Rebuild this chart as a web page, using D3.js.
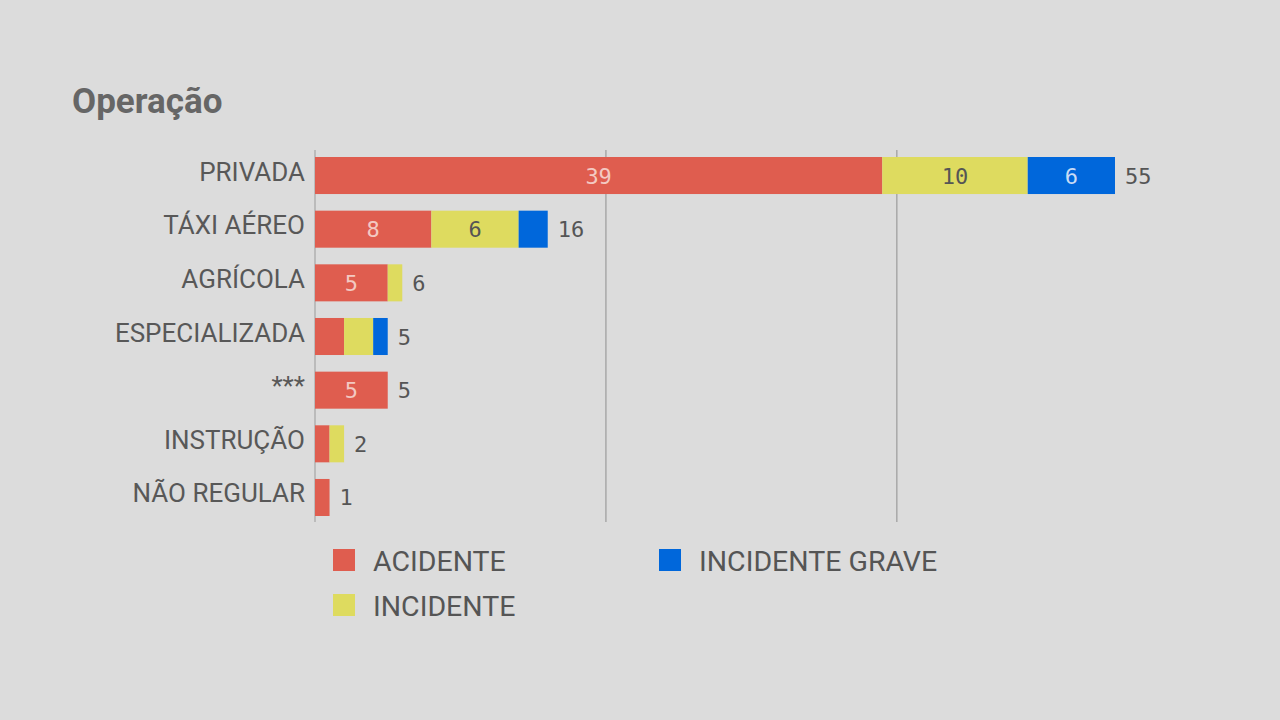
<!DOCTYPE html>
<html><head><meta charset="utf-8">
<script src="https://cdn.jsdelivr.net/npm/d3@7"></script>
<style>
html,body{margin:0;padding:0;background:#dcdcdc;}
svg{display:block;}
</style></head>
<body>
<svg id="chart" width="1280" height="720"></svg>
<script>
const categories = ["PRIVADA","TÁXI AÉREO","AGRÍCOLA","ESPECIALIZADA","***","INSTRUÇÃO","NÃO REGULAR"];
const seriesNames = ["ACIDENTE","INCIDENTE","INCIDENTE GRAVE"];
const acidente = [39, 8, 5, 2, 5, 1, 1];
const incidente = [10, 6, 1, 2, 0, 1, 0];
const incidenteGrave = [6, 2, 0, 1, 0, 0, 0];
const gridTicks = [0, 20, 40];
const colors = ["#df5d4f", "#dedb5f", "#0067db"];
const labelColors = ["#f3c9c2", "#555555", "#c9dcf5"];

const svg = d3.select("#chart");
svg.append("rect").attr("width",1280).attr("height",720).attr("fill","#dcdcdc");

svg.append("text").attr("x",72).attr("y",113)
  .attr("font-family","Roboto, 'Noto Sans', sans-serif").attr("font-weight","bold")
  .attr("font-size",35).attr("fill","#666666").text("Operação");

const x = d3.scaleLinear().domain([0,60]).range([315, 315 + 60*(800/55)]);
const y = d3.scaleBand().domain(categories).range([157, 516]).paddingInner(0.31).paddingOuter(0);

const rows = categories.map((c,i)=>({cat:c, vals:[acidente[i], incidente[i], incidenteGrave[i]]}));
const stack = d3.stack().keys([0,1,2]).value((d,k)=>d.vals[k]);
const stacked = stack(rows);

// gridlines
svg.append("g").selectAll("line").data(gridTicks).join("line")
  .attr("x1",d=>x(d)).attr("x2",d=>x(d)).attr("y1",150).attr("y2",522)
  .attr("stroke",d=>d===0?"#b0b0b0":"#a8a8a8").attr("stroke-width",1.5);

const labelFont = "Roboto, 'Noto Sans', sans-serif";
const monoFont = "'DejaVu Sans Mono', 'Liberation Mono', monospace";

stacked.forEach((layer,k)=>{
  const g = svg.append("g");
  g.selectAll("rect").data(layer).join("rect")
    .attr("x",d=>x(d[0])).attr("width",d=>x(d[1])-x(d[0]))
    .attr("y",d=>y(d.data.cat)).attr("height",y.bandwidth())
    .attr("fill",colors[k]);
  g.selectAll("text").data(layer.filter(d=>x(d[1])-x(d[0])>40)).join("text")
    .attr("x",d=>(x(d[0])+x(d[1]))/2).attr("y",d=>y(d.data.cat)+y.bandwidth()/2+8)
    .attr("text-anchor","middle").attr("font-family",monoFont).attr("font-size",22)
    .attr("fill",labelColors[k]).text(d=>d.data.vals[k]);
});

// totals
svg.append("g").selectAll("text").data(rows).join("text")
  .attr("x",d=>x(d3.sum(d.vals))+10).attr("y",d=>y(d.cat)+y.bandwidth()/2+8)
  .attr("font-family",monoFont).attr("font-size",22).attr("fill","#555555")
  .text(d=>d3.sum(d.vals));

// category labels
svg.append("g").selectAll("text").data(categories).join("text")
  .attr("x",305).attr("y",d=>y(d)+y.bandwidth()/2+5)
  .attr("text-anchor","end").attr("font-family",labelFont).attr("font-size",26)
  .attr("fill","#585858").text(d=>d);

// legend
const legendPos = [[333,549],[333,594],[659,549]];
const lg = svg.append("g");
seriesNames.forEach((s,k)=>{
  const [lx,ly] = legendPos[k];
  lg.append("rect").attr("x",lx).attr("y",ly).attr("width",22).attr("height",22).attr("fill",colors[k]);
  lg.append("text").attr("x",lx+40).attr("y",ly+22).attr("font-family",labelFont)
    .attr("font-size",28.5).attr("fill","#555555").text(s);
});
</script>
</body></html>
